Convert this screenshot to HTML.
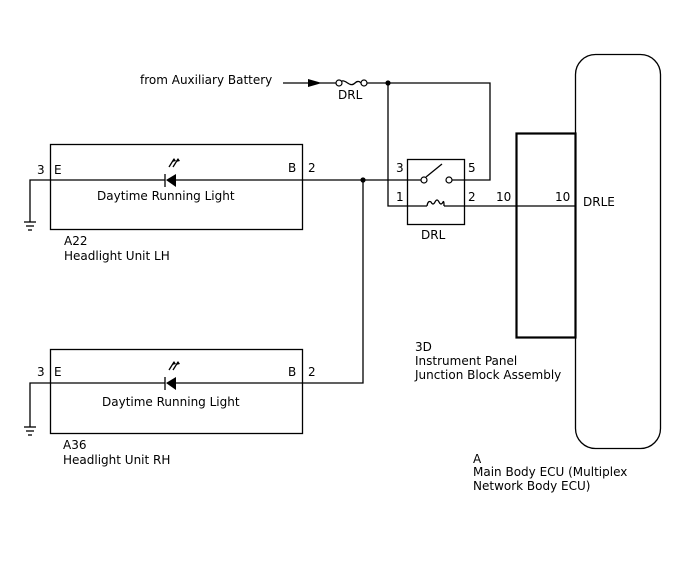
<!DOCTYPE html>
<html><head><style>
html,body{margin:0;padding:0;background:#fff;}
svg text{font-family:"DejaVu Sans","Liberation Sans",sans-serif;font-size:12px;fill:#000;}
</style></head><body>
<svg width="688" height="560" viewBox="0 0 688 560" xmlns="http://www.w3.org/2000/svg">
<g fill="none" stroke="#000" stroke-width="1.3">
<!-- LH box -->
<rect x="50.5" y="144.5" width="252" height="85"/>
<!-- RH box -->
<rect x="50.5" y="349.5" width="252" height="84"/>
<!-- LH wire -->
<polyline points="30,222 30,180 165,180"/>
<line x1="172" y1="180" x2="424" y2="180"/>
<!-- RH wire -->
<polyline points="30,427 30,383 165,383"/>
<polyline points="172,383 363,383 363,180"/>
<!-- feed -->
<line x1="283" y1="83" x2="310" y2="83"/>
<line x1="320" y1="83" x2="337" y2="83"/>
<path d="M339,83 C345,76 349,89 355,83 C358,80 360,82 361,83"/>
<polyline points="366,83 490,83 490,180 452,180"/>
<polyline points="388,83 388,206 427,206"/>
<line x1="444" y1="206" x2="575" y2="206"/>
<!-- relay -->
<rect x="407.5" y="159.5" width="57" height="65"/>
<line x1="426" y1="177" x2="442" y2="164"/>
<path d="M427,206 q1,-6 4,-4 q2,4 4,0 q2,-4 4,0 q2,4 4,0 q1,-2 1,4" />
<!-- ground symbols -->
<line x1="24" y1="222" x2="36" y2="222"/><line x1="26" y1="226" x2="34" y2="226"/><line x1="28" y1="230" x2="32" y2="230"/>
<line x1="24" y1="427" x2="36" y2="427"/><line x1="26" y1="431" x2="34" y2="431"/><line x1="28" y1="435" x2="32" y2="435"/>
<!-- diode bars -->
<line x1="165" y1="174" x2="165" y2="187"/>
<line x1="165" y1="377" x2="165" y2="390"/>
<!-- light arrows -->
<line x1="169" y1="167" x2="174" y2="159"/><line x1="173" y1="167" x2="178" y2="159"/>
<line x1="169" y1="370" x2="174" y2="362"/><line x1="173" y1="370" x2="178" y2="362"/>
<!-- ECU -->
<rect x="575.5" y="54.5" width="85" height="394" rx="20"/>
</g>
<rect x="516.5" y="133.5" width="59" height="204" fill="none" stroke="#000" stroke-width="2.2"/>
<g fill="#000">
<polygon points="166,180 176,174 176,187"/>
<polygon points="166,383 176,377 176,390"/>
<polygon points="308,79 322,83 308,87"/>
<polygon points="174,158 172,162 176,161"/><polygon points="178,158 176,162 180,161"/>
<polygon points="174,361 172,365 176,364"/><polygon points="178,361 176,365 180,364"/>
<circle cx="363" cy="180" r="2.6"/><circle cx="388" cy="83" r="2.6"/>
</g>
<g fill="#fff" stroke="#000" stroke-width="1.2">
<circle cx="339" cy="83" r="3"/><circle cx="364" cy="83" r="3"/>
<circle cx="424" cy="180" r="3"/><circle cx="449" cy="180" r="3"/>
</g>
<text x="140" y="84">from Auxiliary Battery</text>
<text x="338" y="99">DRL</text>
<text x="37" y="174">3</text><text x="54" y="174">E</text>
<text x="288" y="172">B</text><text x="308" y="172">2</text>
<text x="97" y="200">Daytime Running Light</text>
<text x="64" y="245">A22</text><text x="64" y="260">Headlight Unit LH</text>
<text x="37" y="376">3</text><text x="54" y="376">E</text>
<text x="288" y="376">B</text><text x="308" y="376">2</text>
<text x="102" y="406">Daytime Running Light</text>
<text x="63" y="449">A36</text><text x="63" y="464">Headlight Unit RH</text>
<text x="396" y="172">3</text><text x="468" y="172">5</text>
<text x="396" y="201">1</text><text x="468" y="201">2</text>
<text x="421" y="239">DRL</text>
<text x="496" y="201">10</text><text x="555" y="201">10</text>
<text x="583" y="206">DRLE</text>
<text x="415" y="351">3D</text><text x="415" y="365">Instrument Panel</text><text x="415" y="379">Junction Block Assembly</text>
<text x="473" y="463">A</text><text x="473" y="476">Main Body ECU (Multiplex</text><text x="473" y="490">Network Body ECU)</text>
</svg>
</body></html>
